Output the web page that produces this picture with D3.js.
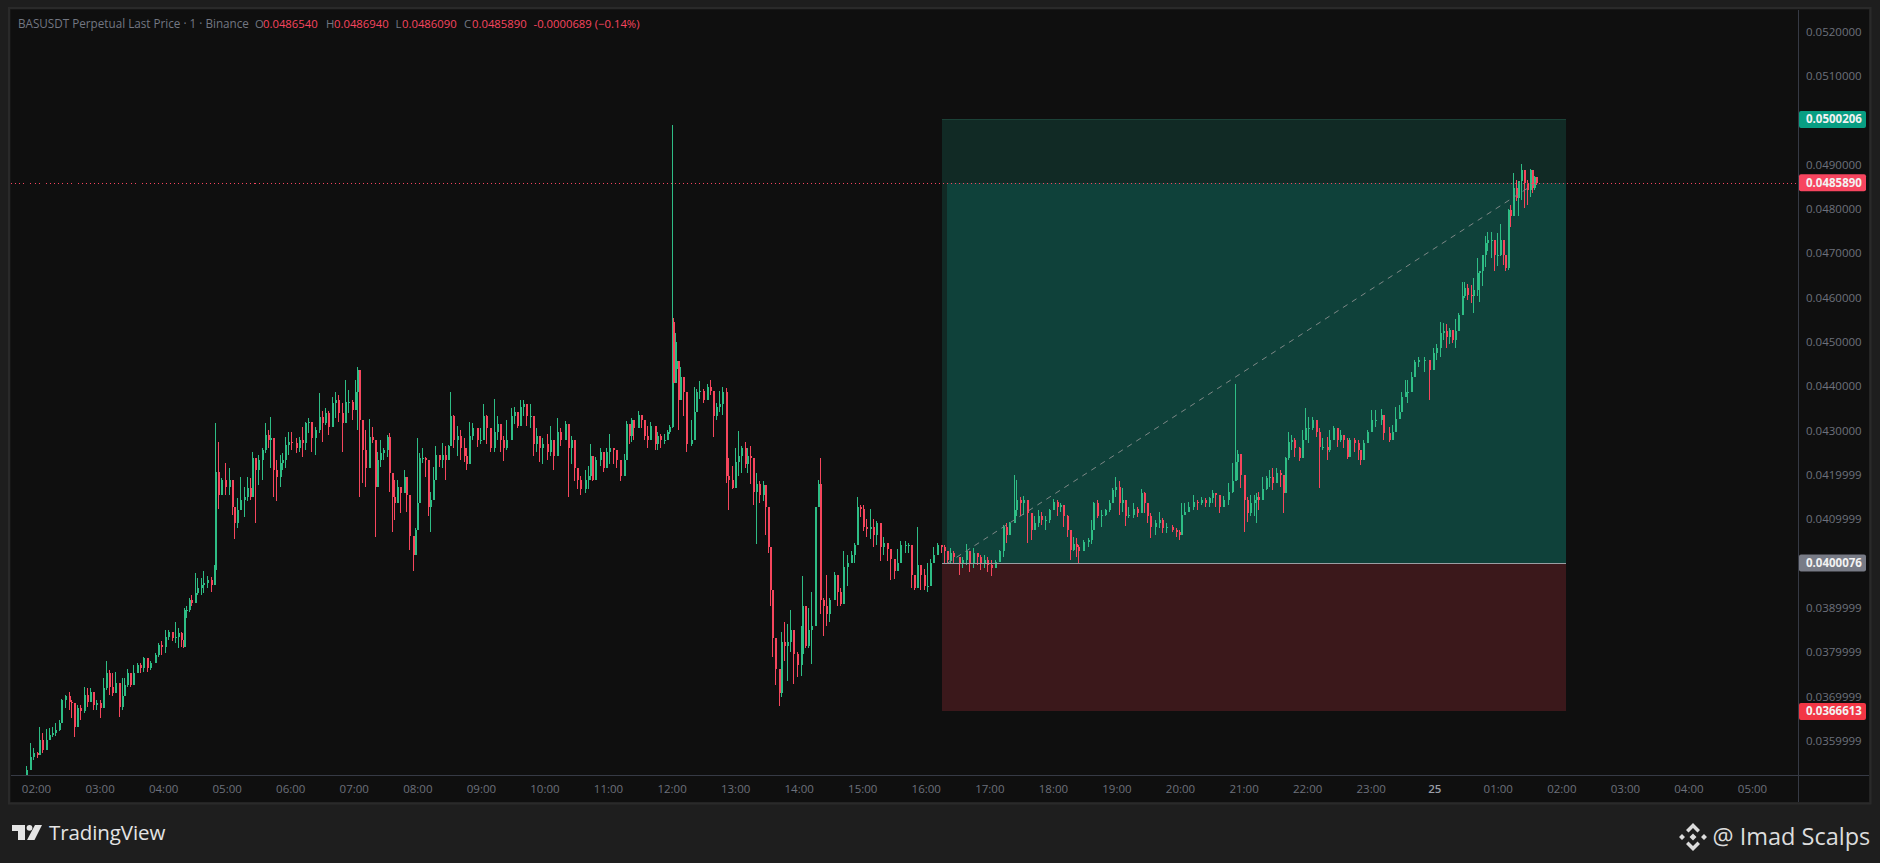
<!DOCTYPE html>
<html><head><meta charset="utf-8">
<script src="https://cdn.jsdelivr.net/npm/d3@7"></script>
<style>html,body{margin:0;padding:0;background:#1e1e1e;overflow:hidden}svg{display:block}text{font-family:"Open Sans","Noto Sans",sans-serif}</style>
</head><body><svg id="c" width="1880" height="863"></svg>
<script>
// minutes after 02:00 of the first day
const minutes=[-9,-6,-3,1,3,6,9,12,15,18,22,24,27,31,33,36,39,42,45,48,51,54,57,60,63,66,69,72,75,78,81,83,86,89,92,95,98,101,105,108,112,115,118,122,125,128,131,134,137,139,140,142,144,146,150,152,156,158,161,165,168,169,172,175,178,182,185,187,190,193,196,199,202,204,207,210,213,216,219,221,224,227,230,232,235,238,241,245,248,251,254,257,260,263,267,270,273,276,279,282,285,289,292,295,298,301,303,305,308,311,314,317,320,322,325,328,331,333,336,338,341,344,347,349,352,356,358,360,362,364,367,370,372,375,377,380,383,386,389,
391,394,397,400,404,406,409,412,416,419,422,425,429,432,435,438,441,444,448,451,454,457,460,463,466,469,472,475,478,482,485,488,492,495,499,502,505,508,511,514,518,521,523,525,528,532,535,538,541,545,548,551,555,557,560,562,564,568,571,574,577,580,584,586,589,593,596,598,600,601,603,604,606,608,611,614,618,621,623,626,630,633,636,639,642,645,648,651,653,657,660,663,666,669,671,674,677,680,683,686,688,691,693,695,698,701,703,706,709,712,715,718,722,723,726,729,732,735,738,740,743,746,749,753,756,759,762,766,769,772,775,778,781,784,787,790,793,797,800,803,806,810,813,816,820,823,826,829,832,835,838,841,844,847,851,854,
857,860,863,866,871,874,878,881,885,888,891,895,898,902,905,909,913,916,919,923,925,929,932,936,939,942,946,949,953,956,960,964,967,970,973,976,979,982,984,988,993,996,998,1002,1005,1009,1013,1016,1019,1022,1025,1028,1031,1036,1039,1043,1046,1049,1052,1056,1060,1063,1067,1072,1076,1079,1081,1084,1088,1092,1096,1100,1104,1107,1110,1113,1117,1121,1125,1129,1132,1134,1137,1140,1143,1146,1150,1152,1154,1157,1161,1164,1167,1171,1174,1177,1179,1182,1185,1188,1192,1195,1198,1201,1205,1208,1211,1214,1219,1221,1224,1228,1231,1234,1238,1240,1244,1248,1250,1253,1257,1260,1264,1270,1272,1277,1280,1283,1287,1289,1292,1294,1298,1301,1305,1310,1315,
1319,1322,1325,1328,1331,1334,1337,1340,1342,1346,1348,1351,1355,1357,1360,1362,1365,1368,1370,1374,1376,1379,1382,1385,1387,1390,1392,1394,1397,1399,1402,1405,1408,1410,1412,1414,1416];
// prices, in units of 0.00001
const closes=[3534,3564,3572,3568,3602,3580,3602,3613,3617,3624,3639,3692,3700,3688,3685,3632,3673,3666,3703,3688,3711,3681,3686,3673,3718,3752,3722,3707,3730,3677,3700,3726,3752,3726,3752,3771,3763,3786,3763,3775,3794,3816,3812,3835,3846,3831,3835,3842,3827,3812,3895,3895,3918,3910,3933,3944,3951,3955,3963,3951,3985,4207,4155,4188,4173,4188,4128,4091,4121,4143,4151,4170,4151,4237,4211,4233,4256,4290,4279,4282,4211,4196,4226,4233,4267,4275,4271,4260,4279,4271,4316,4320,4282,4301,4331,4316,4339,4309,4361,4369,4339,4316,4365,4365,4346,4388,4437,4324,4256,4215,4286,4279,4173,4233,4249,4256,4286,4203,4151,4136,4173,4158,4196,4155,4061,4019,4076,4136,4237,4237,4233,4128,4143,4188,4245,4233,4245,4233,4264,
4332,4278,4287,4261,4243,4225,4287,4305,4278,4278,4332,4305,4261,4296,4314,4278,4261,4278,4332,4341,4310,4354,4359,4332,4332,4270,4287,4261,4270,4252,4278,4243,4296,4278,4314,4261,4278,4216,4189,4167,4189,4198,4243,4189,4234,4252,4216,4252,4261,4256,4234,4198,4234,4314,4287,4323,4305,4336,4323,4287,4278,4310,4270,4287,4278,4278,4296,4307,4546,4408,4439,4457,4368,4421,4386,4270,4278,4341,4386,4390,4368,4399,4390,4332,4354,4359,4386,4198,4189,4171,4229,4243,4261,4225,4243,4238,4162,4180,4154,4176,4127,4037,3939,3832,3761,3707,3823,3814,3823,3850,3796,3770,3796,3904,3814,3850,3859,4127,4180,3917,3904,3886,3917,3975,3935,3908,3993,4002,4020,4042,4127,4122,4082,4078,4082,4064,4091,4037,4046,4033,4011,3984,4002,4042,4042,4042,3975,3944,3997,3975,3948,3948,4002,4020,4042,4037,
4027,4008,4023,4015,4000,4008,4027,4000,4023,4015,4000,4008,3997,3989,4004,4027,4083,4064,4091,4121,4143,4136,4143,4113,4075,4091,4106,4098,4098,4121,4139,4128,4132,4106,4075,4030,4045,4038,4027,4049,4053,4075,4136,4106,4109,4121,4136,4166,4173,4136,4143,4106,4109,4124,4113,4158,4136,4106,4083,4091,4098,4079,4083,4075,4072,4064,4109,4117,4128,4139,4136,4143,4136,4147,4158,4154,4128,4143,4162,4185,4230,4248,4200,4143,4113,4136,4143,4151,4143,4169,4192,4196,4181,4203,4200,4158,4237,4275,4279,4260,4237,4279,4305,4305,4324,4297,4263,4263,4256,4279,4305,4279,4290,4279,4241,4279,4271,4256,4233,4271,4297,4324,4324,4335,4294,4279,4297,4327,4342,4376,4388,4388,4421,4455,4459,4459,4436,
4475,4486,4520,4524,4512,4527,4505,4524,4561,4603,4621,4606,4603,4618,4655,4659,4697,4723,4730,4730,4697,4697,4730,4697,4666,4798,4783,4847,4824,4862,4888,4858,4843,4888,4847,4872,4859];
const highs=[3542,3594,3583,3575,3630,3617,3626,3628,3632,3639,3647,3694,3703,3709,3692,3662,3681,3681,3722,3718,3718,3688,3692,3692,3741,3779,3760,3752,3754,3726,3741,3741,3761,3752,3771,3775,3775,3788,3779,3779,3797,3820,3824,3850,3850,3842,3867,3854,3846,3827,3899,3903,3921,3929,3978,3967,3967,3982,3972,3970,3997,4318,4275,4192,4226,4215,4173,4124,4147,4196,4173,4196,4192,4252,4237,4245,4260,4316,4301,4330,4256,4233,4245,4249,4286,4297,4297,4282,4286,4309,4320,4328,4312,4309,4384,4343,4350,4343,4376,4388,4380,4361,4414,4391,4369,4414,4443,4421,4260,4301,4325,4309,4260,4252,4279,4260,4290,4294,4188,4188,4188,4166,4211,4177,4098,4057,4079,4282,4249,4260,4241,4196,4162,4218,4264,4241,4271,4264,4267,
4386,4336,4310,4301,4283,4261,4319,4316,4292,4305,4359,4336,4278,4370,4332,4314,4287,4323,4350,4354,4341,4368,4368,4359,4359,4301,4305,4283,4283,4292,4310,4274,4328,4305,4321,4310,4287,4247,4216,4198,4212,4220,4270,4220,4240,4261,4243,4261,4292,4261,4243,4220,4247,4321,4314,4328,4314,4345,4336,4301,4310,4319,4287,4296,4292,4292,4301,4312,4990,4555,4519,4500,4430,4444,4399,4345,4323,4399,4394,4412,4394,4405,4415,4368,4363,4390,4399,4396,4238,4220,4261,4299,4265,4274,4261,4265,4194,4205,4185,4187,4154,4111,4020,3917,3788,3747,3846,3868,3863,3895,3823,3801,3859,3971,3868,3899,3935,4127,4189,4238,3921,3975,3921,3980,3939,3944,4029,4020,4029,4046,4149,4131,4131,4100,4124,4100,4096,4064,4060,4037,4029,3997,4033,4051,4051,4046,4042,3975,4082,3997,3988,4002,4011,4037,4046,4042,
4042,4027,4034,4027,4015,4015,4043,4015,4034,4019,4019,4019,4015,4008,4008,4030,4087,4091,4094,4200,4188,4151,4152,4143,4113,4106,4121,4117,4106,4124,4145,4143,4137,4121,4109,4068,4060,4057,4042,4053,4057,4098,4139,4143,4121,4124,4143,4170,4196,4185,4170,4121,4128,4136,4128,4167,4162,4117,4113,4098,4117,4102,4091,4087,4079,4075,4136,4136,4139,4154,4143,4149,4147,4151,4166,4158,4154,4152,4181,4226,4405,4257,4211,4200,4151,4154,4154,4158,4162,4196,4197,4211,4215,4215,4211,4196,4241,4297,4290,4282,4263,4301,4350,4331,4331,4320,4305,4282,4286,4301,4310,4301,4301,4290,4282,4282,4282,4279,4252,4279,4301,4346,4346,4348,4312,4309,4312,4354,4357,4388,4414,4414,4433,4459,4467,4467,4459,
4486,4496,4546,4542,4541,4531,4524,4552,4565,4636,4636,4631,4629,4644,4689,4661,4697,4738,4747,4749,4721,4745,4766,4724,4697,4800,4809,4881,4866,4864,4902,4877,4866,4890,4887,4875,4869];
const lows=[3523,3542,3557,3560,3572,3572,3587,3608,3609,3611,3621,3647,3673,3670,3651,3609,3639,3647,3662,3677,3692,3670,3670,3651,3688,3715,3703,3700,3707,3653,3670,3703,3722,3722,3733,3754,3752,3754,3754,3760,3779,3790,3794,3797,3827,3824,3820,3809,3812,3810,3812,3876,3891,3903,3910,3929,3929,3933,3944,3936,3963,3970,4124,4155,4155,4155,4109,4055,4079,4121,4104,4140,4143,4181,4091,4177,4188,4249,4260,4215,4151,4140,4173,4211,4215,4245,4256,4249,4252,4241,4256,4294,4252,4245,4294,4275,4312,4290,4339,4328,4320,4252,4324,4339,4324,4369,4301,4151,4181,4173,4252,4271,4059,4181,4218,4233,4241,4162,4072,4098,4136,4113,4173,4117,4030,3982,4034,4076,4136,4226,4196,4106,4070,4158,4196,4218,4215,4188,4237,
4270,4261,4243,4234,4229,4212,4238,4278,4262,4270,4305,4270,4252,4252,4278,4252,4232,4256,4301,4314,4305,4332,4332,4310,4305,4243,4252,4229,4225,4234,4243,4212,4247,4265,4287,4149,4225,4185,4167,4154,4158,4167,4189,4185,4207,4220,4207,4234,4225,4225,4216,4187,4220,4261,4270,4274,4278,4314,4305,4278,4261,4287,4256,4256,4261,4270,4278,4292,4305,4408,4408,4408,4301,4394,4332,4252,4265,4287,4341,4372,4363,4372,4381,4286,4323,4341,4336,4182,4120,4167,4176,4198,4203,4216,4203,4180,4131,4045,4136,4140,4064,4024,3904,3788,3725,3679,3698,3779,3734,3801,3727,3743,3745,3846,3810,3810,3772,3899,4136,3886,3837,3859,3868,3921,3904,3904,3921,3948,4002,4002,4073,4104,4073,4060,4055,4037,4042,4006,4020,4006,3962,3966,3984,4020,4024,4024,3944,3939,3966,3939,3939,3935,3980,4006,4024,4024,
4000,3999,4000,4000,3974,3989,3997,3981,3989,3997,3985,3989,3981,3972,3989,4004,4015,4047,4068,4098,4106,4106,4109,4047,4053,4079,4083,4087,4075,4091,4121,4106,4117,4083,4060,4008,4027,4015,4000,4027,4038,4045,4091,4102,4083,4106,4117,4139,4151,4109,4117,4084,4102,4102,4104,4143,4113,4091,4057,4064,4079,4068,4069,4072,4060,4054,4075,4109,4121,4121,4121,4132,4128,4128,4136,4128,4113,4136,4132,4158,4188,4188,4170,4072,4094,4106,4106,4091,4121,4151,4166,4173,4166,4181,4173,4113,4158,4233,4256,4241,4232,4248,4286,4271,4301,4286,4171,4256,4233,4252,4279,4263,4275,4260,4235,4256,4252,4233,4222,4245,4271,4305,4309,4312,4279,4273,4282,4309,4325,4354,4376,4361,4395,4429,4444,4433,4369,
4452,4460,4467,4505,4486,4496,4497,4486,4539,4572,4599,4595,4588,4566,4603,4591,4625,4670,4704,4689,4661,4672,4693,4674,4661,4663,4759,4806,4817,4783,4821,4803,4809,4828,4837,4843,4855];
const priceTicks=[0.052,0.051,0.049,0.048,0.047,0.046,0.045,0.044,0.043,0.0419999,0.0409999,0.0389999,0.0379999,0.0369999,0.0359999];
const hourTicks=[0,60,120,180,240,300,360,420,480,540,600,660,720,780,840,900,960,1020,1080,1140,1200,1260,1320,1380,1440,1500,1560,1620];
const hourLabels=["02:00","03:00","04:00","05:00","06:00","07:00","08:00","09:00","10:00","11:00","12:00","13:00","14:00","15:00","16:00","17:00","18:00","19:00","20:00","21:00","22:00","23:00","25","01:00","02:00","03:00","04:00","05:00"];
const targetPrice=0.0500206, lastPrice=0.0485890, entryPrice=0.0400076, stopPrice=0.0366613;
const boxStart=855.5, boxFill=860.5, boxEnd=1444, tradeEnd=1416;
const legendParts=[["BASUSDT Perpetual Last Price · 1 · Binance",18,"#737782",11.7],["O",255,"#737782",11.3],["0.0486540",263,"#f7455f",11.3],["H",326,"#737782",11.3],["0.0486940",334,"#f7455f",11.3],["L",395.5,"#737782",11.3],["0.0486090",402,"#f7455f",11.3],["C",464,"#737782",11.3],["0.0485890",472,"#f7455f",11.3],["-0.0000689 (−0.14%)",533.5,"#f7455f",11.3]];
const priceLabels=[[targetPrice,"#089e83"],[lastPrice,"#f7455f"],[entryPrice,"#787b86"],[stopPrice,"#f23645"]];

const UP="#2ebd85", DOWN="#f6465d";
const svg=d3.select("#c");
const X0=10.5,X1=1798,XR=1869,Y0=9.5,YA=775,YB=802;
const x=d3.scaleLinear().domain([0,1620]).range([36,1752]);
const y=d3.scaleLinear().domain([0.052,0.036]).range([31.7,740.7]);

svg.append("rect").attr("width",1880).attr("height",863).attr("fill","#1e1e1e");
svg.append("rect").attr("x",X0-1.5).attr("y",Y0-1.5).attr("width",XR-X0+3).attr("height",YB-Y0+3).attr("fill","none").attr("stroke","#2a2a2a").attr("stroke-width",2);
svg.append("rect").attr("x",X0).attr("y",Y0).attr("width",XR-X0).attr("height",YB-Y0).attr("fill","#0f0f0f");

const clip=svg.append("defs").append("clipPath").attr("id","plot").append("rect").attr("x",X0).attr("y",Y0).attr("width",X1-X0).attr("height",YA-Y0);
const plot=svg.append("g").attr("clip-path","url(#plot)").attr("shape-rendering","crispEdges");

// long position tool
const bx0=Math.round(x(boxStart)),bxf=Math.round(x(boxFill)),bx1=Math.round(x(boxEnd));
plot.append("rect").attr("x",bx0).attr("y",y(targetPrice)).attr("width",bx1-bx0).attr("height",y(entryPrice)-y(targetPrice)).attr("fill","#112a25");
plot.append("rect").attr("x",bxf).attr("y",y(lastPrice)).attr("width",bx1-bxf).attr("height",y(entryPrice)-y(lastPrice)).attr("fill","#0f413a");
plot.append("rect").attr("x",bx0).attr("y",y(entryPrice)).attr("width",bx1-bx0).attr("height",y(stopPrice)-y(entryPrice)).attr("fill","#3b181b");
plot.append("line").attr("x1",bx0).attr("x2",bx1).attr("y1",y(targetPrice)).attr("y2",y(targetPrice)).attr("stroke","#1b4238");

// candles
const candles=minutes.map((m,i)=>({m,o:i?closes[i-1]:lows[i],c:closes[i],h:highs[i],l:lows[i]}));
const P=v=>y(v/1e5);
const g=plot.append("g");
g.selectAll("line").data(candles).join("line")
 .attr("x1",d=>Math.round(x(d.m))+.5).attr("x2",d=>Math.round(x(d.m))+.5)
 .attr("y1",d=>P(d.h)).attr("y2",d=>P(d.l))
 .attr("stroke",d=>d.c>=d.o?UP:DOWN).attr("stroke-width",1);
g.selectAll("rect").data(candles).join("rect")
 .attr("x",d=>Math.round(x(d.m))).attr("width",2)
 .attr("y",d=>P(Math.max(d.o,d.c)))
 .attr("height",d=>Math.max(1,Math.abs(P(d.o)-P(d.c))))
 .attr("fill",d=>d.c>=d.o?UP:DOWN);

// entry line, dashed trade line, last price line
plot.append("line").attr("x1",bx0).attr("x2",bx1).attr("y1",y(entryPrice)).attr("y2",y(entryPrice)).attr("stroke","#9a9ea3");
svg.append("line").attr("clip-path","url(#plot)").attr("x1",x(boxFill)).attr("y1",y(entryPrice)).attr("x2",x(tradeEnd)).attr("y2",y(lastPrice)).attr("stroke","#7d8786").attr("stroke-width",1).attr("stroke-dasharray","5.5 5.2");
svg.append("line").attr("shape-rendering","crispEdges").attr("x1",X0).attr("x2",X1).attr("y1",Math.round(y(lastPrice))+.5).attr("y2",Math.round(y(lastPrice))+.5).attr("stroke","#f7455f").attr("stroke-dasharray","1 3");

// axes
svg.append("line").attr("shape-rendering","crispEdges").attr("x1",X1+.5).attr("x2",X1+.5).attr("y1",Y0).attr("y2",YB).attr("stroke","#363a45");
svg.append("line").attr("shape-rendering","crispEdges").attr("x1",X0).attr("x2",XR).attr("y1",YA+.5).attr("y2",YA+.5).attr("stroke","#363a45");
const ay=svg.append("g").attr("transform",`translate(${X1},0)`).call(d3.axisRight(y).tickValues(priceTicks).tickSize(0).tickPadding(8).tickFormat(d3.format(".7f")));
ay.select(".domain").remove();
ay.selectAll("text").attr("fill","#6d717c").attr("font-size",11.5).attr("font-family",'"Open Sans",sans-serif');
const ax=svg.append("g").attr("transform",`translate(0,${YA})`).call(d3.axisBottom(x).tickValues(hourTicks).tickSize(0).tickPadding(10).tickFormat((d,i)=>hourLabels[i]));
ax.select(".domain").remove();
ax.selectAll("text").attr("fill","#6d717c").attr("font-size",11.5).attr("font-family",'"Open Sans",sans-serif');
ax.selectAll(".tick").filter((d,i)=>hourLabels[i]==="25").select("text").attr("fill","#9b9ea7").attr("font-weight",600);

// price labels
priceLabels.forEach(([p,col])=>{
 const yy=y(p);
 svg.append("rect").attr("x",X1+1).attr("y",yy-8.5).attr("width",67).attr("height",17).attr("rx",2).attr("fill",col);
 svg.append("text").attr("x",X1+8).attr("y",yy+4).attr("fill","#f2f2f2").attr("font-size",11.5).attr("font-weight",700).text(d3.format(".7f")(p));
});

// legend
svg.selectAll(".leg").data(legendParts).join("text").attr("class","leg").attr("x",d=>d[1]).attr("y",27.5).attr("fill",d=>d[2]).attr("font-size",d=>d[3]).text(d=>d[0]);

// logos
const lg=svg.append("g").attr("fill","#e4e4e4");
lg.append("path").attr("d","M12 825H25V840H18V831H12Z");
lg.append("circle").attr("cx",29.5).attr("cy",827.8).attr("r",2.9);
lg.append("path").attr("d","M35 825H42L34.5 840H27Z");
lg.append("text").attr("x",49).attr("y",840).attr("font-family","Inter,sans-serif").attr("font-weight",500).attr("font-size",20.5).attr("letter-spacing",-.1).text("TradingView");
const bn=svg.append("g").attr("fill","#dcdcdc").attr("transform","translate(1693,837)");
bn.append("path").attr("d","M0-14L7-7 4.5-4.5 0-9 -4.5-4.5 -7-7Z");
bn.append("path").attr("d","M0 14L7 7 4.5 4.5 0 9 -4.5 4.5 -7 7Z");
bn.append("path").attr("d","M-14 0L-11-3-8 0-11 3ZM14 0L11-3 8 0 11 3ZM0-3.5L3.5 0 0 3.5-3.5 0Z");
svg.append("text").attr("x",1712.5).attr("y",845).attr("fill","#dcdcdc").attr("font-size",23.5).attr("font-family",'"Open Sans",sans-serif').text("@ Imad Scalps");
</script></body></html>
